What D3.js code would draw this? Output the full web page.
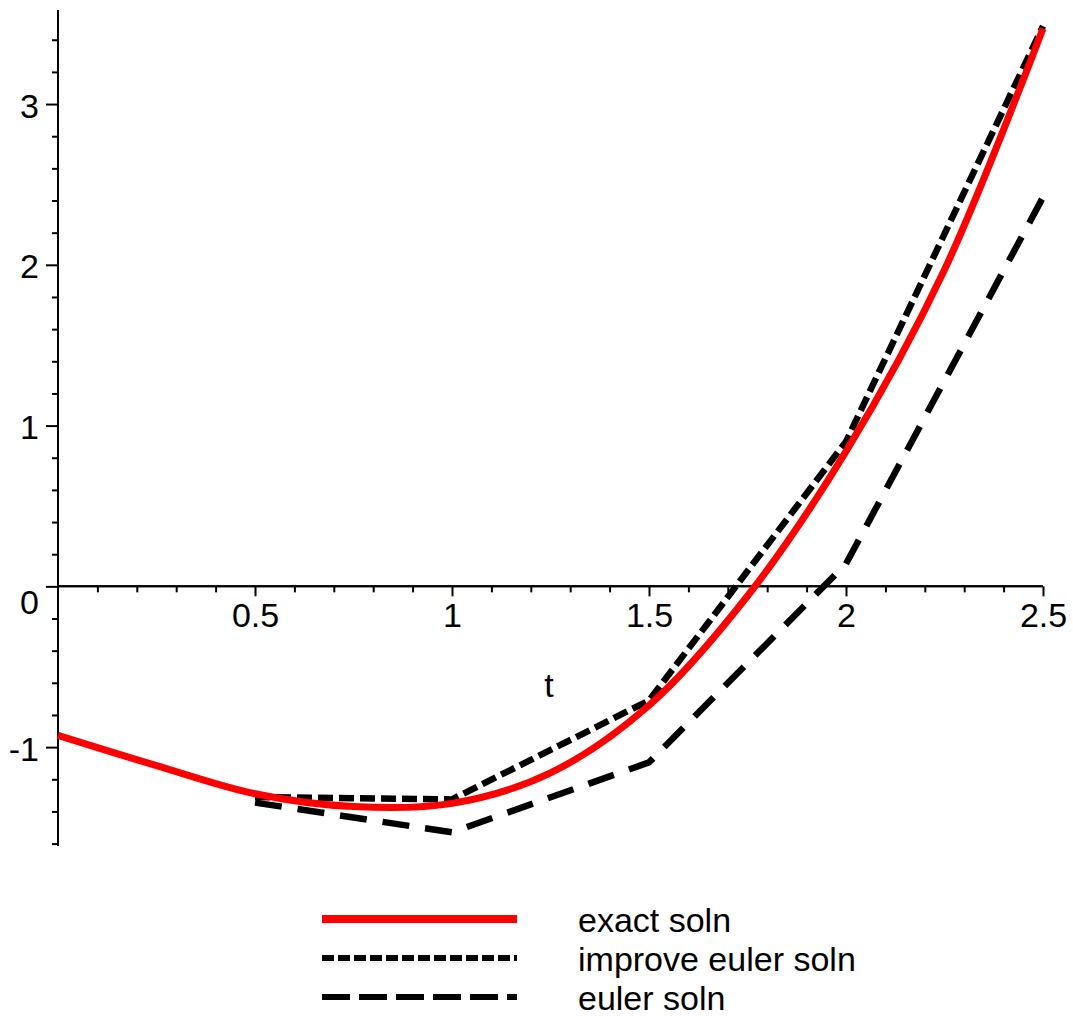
<!DOCTYPE html>
<html>
<head>
<meta charset="utf-8">
<script src="https://cdn.jsdelivr.net/npm/d3@7"></script>
<style>
  body { margin: 0; background: #fff; }
  text { font-family: "Liberation Sans", Arial, sans-serif; font-size: 34px; fill: #000; }
</style>
</head>
<body>
<script>
// exact solution, every 0.25
var tExact = [0, 0.25, 0.5, 0.75, 1, 1.25, 1.5, 1.75, 2, 2.25, 2.5];
var yExact = [-0.927, -1.115, -1.29, -1.37, -1.35, -1.16, -0.74, -0.06, 0.84, 1.97, 3.47];

// numerical solutions, step 0.5
var tStep = [0.5, 1, 1.5, 2, 2.5];
var yImproved = [-1.31, -1.325, -0.71, 0.9, 3.485];
var yEuler = [-1.345, -1.53, -1.095, 0.14, 2.42];

var xMajor = [0.5, 1, 1.5, 2, 2.5];
var yMajor = [-1, 0, 1, 2, 3];
var legendLabels = ["exact soln", "improve euler soln", "euler soln"];

const width = 1073, height = 1016;

var svg = d3.select("body").append("svg")
  .attr("width", width)
  .attr("height", height);

var x = d3.scaleLinear().domain([0, 2.5]).range([58, 1043]);
var y = d3.scaleLinear().domain([-1.615, 3.585]).range([846, 10]);

// minor ticks: every 0.1 on t, every 0.2 on y
var xMinor = d3.range(1, 26).map(d => d / 10).filter(d => Math.abs(d * 2 - Math.round(d * 2)) > 1e-6);
var yMinor = d3.range(-8, 18).map(d => d / 5).filter(d => Math.abs(d - Math.round(d)) > 1e-6);
var noLabel = () => "";

// x axis
var xAxisG = svg.append("g").attr("transform", "translate(0," + y(0) + ")");
xAxisG.append("g").call(d3.axisBottom(x).tickValues(xMinor).tickSize(6).tickFormat(noLabel));
xAxisG.append("g").attr("class", "major")
  .call(d3.axisBottom(x).tickValues(xMajor).tickSize(10).tickFormat(d3.format("")));
xAxisG.selectAll(".domain").attr("stroke-width", 2).attr("d", "M" + x(0) + ",0H" + x(2.5));
xAxisG.selectAll(".tick line").attr("stroke-width", 2);
xAxisG.selectAll(".major .tick text")
  .attr("y", 41).attr("dy", 0)
  .attr("font-family", null).attr("font-size", null);

// y axis
var yAxisG = svg.append("g").attr("transform", "translate(" + x(0) + ",0)");
yAxisG.append("g").call(d3.axisLeft(y).tickValues(yMinor).tickSize(6).tickFormat(noLabel));
yAxisG.append("g").attr("class", "major")
  .call(d3.axisLeft(y).tickValues(yMajor).tickSize(12).tickFormat(d3.format("")));
yAxisG.selectAll(".domain").attr("stroke-width", 2).attr("d", "M0," + y.range()[0] + "V" + y.range()[1]);
yAxisG.selectAll(".tick line").attr("stroke-width", 2);
yAxisG.selectAll(".major .tick text")
  .attr("x", -19)
  .attr("dy", d => d === 0 ? 27 : 13)
  .attr("font-family", null).attr("font-size", null)
  .text(d => String(d));

// axis title
svg.append("text")
  .attr("x", 549).attr("y", 697)
  .attr("text-anchor", "middle")
  .text("t");

// curves
var exactLine = d3.line().x(d => x(d[0])).y(d => y(d[1])).curve(d3.curveCatmullRom);
var stepLine = d3.line().x(d => x(d[0])).y(d => y(d[1]));

svg.append("path")
  .datum(d3.zip(tStep, yEuler))
  .attr("d", stepLine)
  .attr("fill", "none")
  .attr("stroke", "#000")
  .attr("stroke-width", 6.5)
  .attr("stroke-dasharray", "27,16");

svg.append("path")
  .datum(d3.zip(tStep, yImproved))
  .attr("d", stepLine)
  .attr("fill", "none")
  .attr("stroke", "#000")
  .attr("stroke-width", 6.5)
  .attr("stroke-dasharray", "15,6");

svg.append("path")
  .datum(d3.zip(tExact, yExact))
  .attr("d", exactLine)
  .attr("fill", "none")
  .attr("stroke", "#ff0000")
  .attr("stroke-width", 7);

// legend
var legendStyle = [
  { color: "#ff0000", dash: null, w: 8 },
  { color: "#000", dash: "12,4", w: 6 },
  { color: "#000", dash: "28,9", w: 6 }
];
var legendY = [919, 958, 997];

var legend = svg.append("g");
legendLabels.forEach(function (label, i) {
  legend.append("line")
    .attr("x1", 322).attr("x2", 517)
    .attr("y1", legendY[i]).attr("y2", legendY[i])
    .attr("stroke", legendStyle[i].color)
    .attr("stroke-width", legendStyle[i].w)
    .attr("stroke-dasharray", legendStyle[i].dash);
  legend.append("text")
    .attr("x", 578)
    .attr("y", legendY[i] + 13)
    .text(label);
});
</script>
</body>
</html>
